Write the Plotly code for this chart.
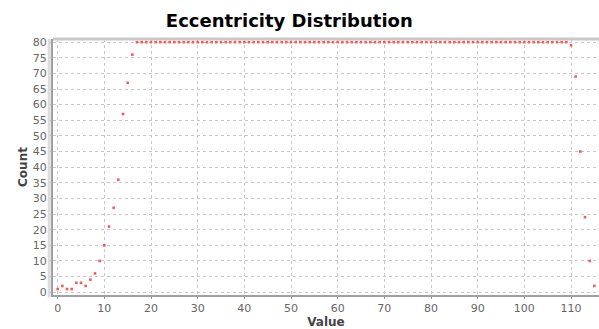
import plotly.graph_objects as go

values = list(range(0, 116))
counts_head = [1, 2, 1, 1, 3, 3, 2, 4, 6, 10, 15, 21, 27, 36, 57, 67, 76]
counts_mid = [80] * (110 - 17)
counts_tail = [79, 69, 45, 24, 10, 2]
counts = counts_head + counts_mid + counts_tail

fig = go.Figure()
fig.add_trace(go.Scatter(
    x=values, y=counts, mode="markers",
    marker=dict(symbol="square", size=2.6, color="#ff5555", line=dict(width=0)),
    showlegend=False,
))

grid = dict(showgrid=True, gridcolor="#c8c8c8", griddash="dot", gridwidth=1,
            zeroline=False, ticks="outside", ticklen=2, tickcolor="#999",
            tickfont=dict(family="DejaVu Sans", size=11, color="#666"),
            showline=True, linecolor="#a0a0a0", linewidth=2)

fig.update_layout(
    width=599, height=329,
    margin=dict(l=53, r=0, t=39, b=34),
    paper_bgcolor="white", plot_bgcolor="white",
    title=dict(text="<b>Eccentricity Distribution</b>", x=0.483, xanchor="center",
               y=0.937, yanchor="middle",
               font=dict(family="DejaVu Sans", size=18, color="black")),
    xaxis=dict(range=[-1, 116], dtick=10, tick0=0,
               title=dict(text="<b>Value</b>", standoff=3,
                          font=dict(family="DejaVu Sans", size=12, color="#444")),
               **grid),
    yaxis=dict(range=[-0.9, 81], dtick=5, tick0=0,
               title=dict(text="<b>Count</b>", standoff=3,
                          font=dict(family="DejaVu Sans", size=12, color="#444")),
               **grid),
)
fig.add_shape(type="line", xref="paper", yref="paper", x0=0, x1=1, y0=1, y1=1,
              line=dict(color="#c8c8c8", width=3))
fig.add_shape(type="line", xref="paper", yref="paper", x0=-0.007, x1=-0.007, y0=-0.01, y1=1,
              line=dict(color="#dcdcdc", width=3))
fig.write_html("out.html")
